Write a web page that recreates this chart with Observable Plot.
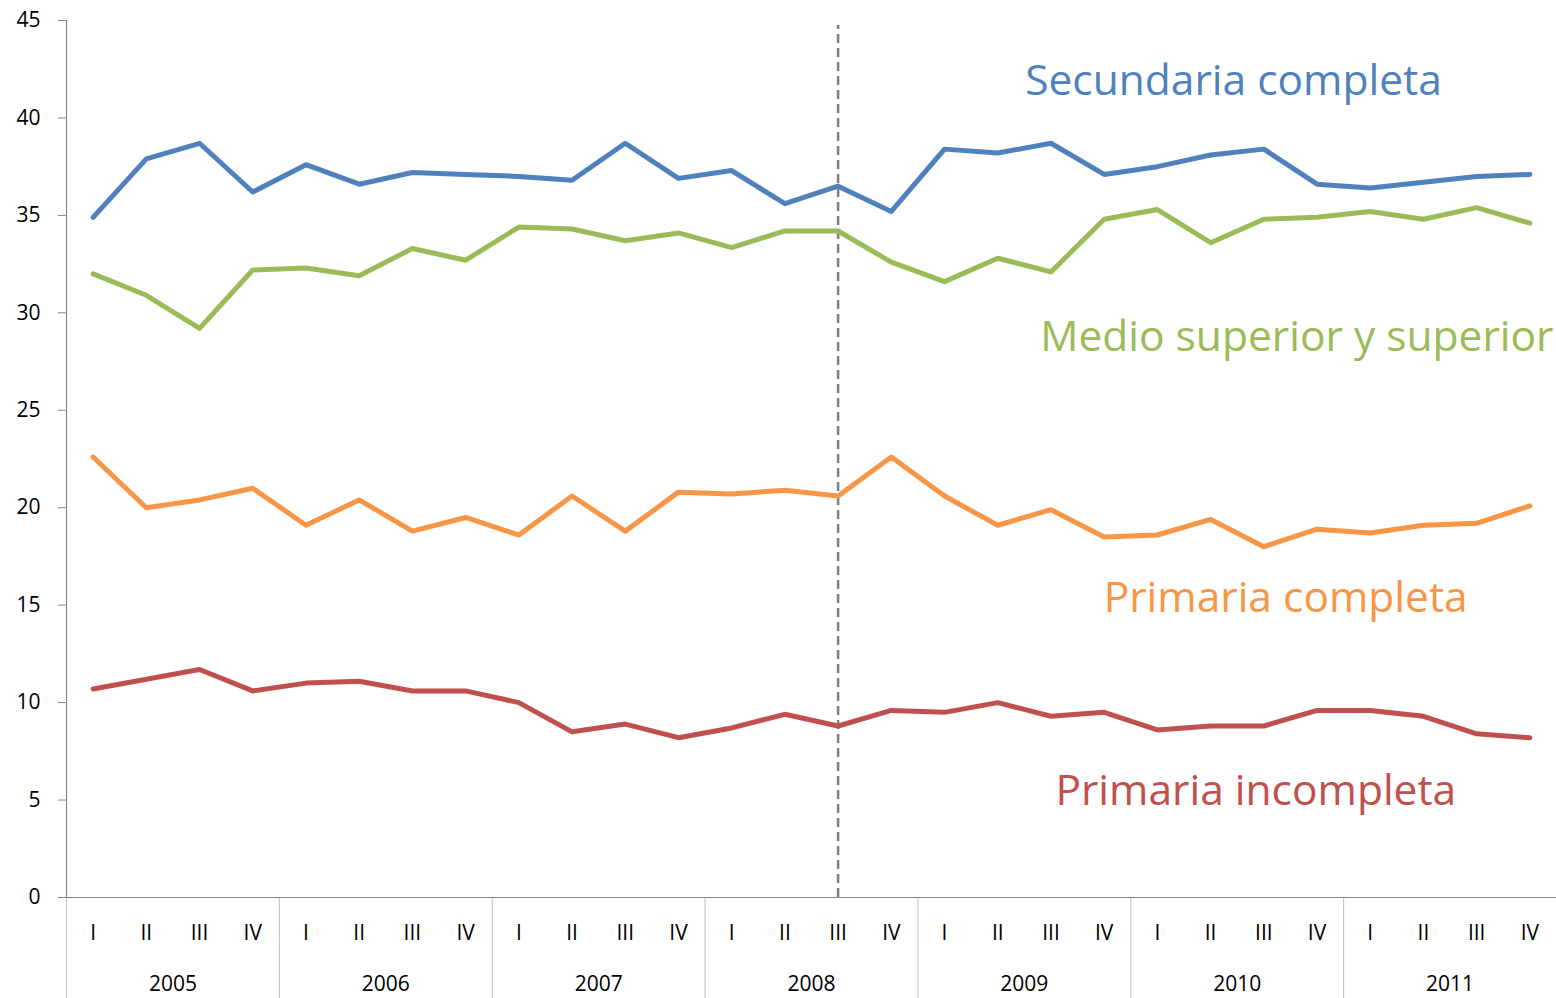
<!DOCTYPE html>
<html>
<head>
<meta charset="utf-8">
<script src="https://cdn.jsdelivr.net/npm/d3@7"></script>
<script src="https://cdn.jsdelivr.net/npm/@observablehq/plot@0.6"></script>
<style>
  html, body { margin: 0; padding: 0; background: #fff; }
  #chart svg { display: block; }
</style>
</head>
<body>
<div id="chart"></div>
<script>
const years = [2005, 2006, 2007, 2008, 2009, 2010, 2011];
const quarters = ["I", "II", "III", "IV"];
const yTicks = [0, 5, 10, 15, 20, 25, 30, 35, 40, 45];

const seriesNames = ["Secundaria completa", "Medio superior y superior", "Primaria completa", "Primaria incompleta"];
const seriesColors = ["#4F81BD", "#9BBB59", "#F79646", "#C0504D"];

const secundariaCompleta = [34.9, 37.9, 38.7, 36.2, 37.6, 36.6, 37.2, 37.1, 37.0, 36.8, 38.7, 36.9, 37.3, 35.6, 36.5, 35.2, 38.4, 38.2, 38.7, 37.1, 37.5, 38.1, 38.4, 36.6, 36.4, 36.7, 37.0, 37.1];
const medioSuperior = [32.0, 30.9, 29.2, 32.2, 32.3, 31.9, 33.3, 32.7, 34.4, 34.3, 33.7, 34.1, 33.35, 34.2, 34.2, 32.6, 31.6, 32.8, 32.1, 34.8, 35.3, 33.6, 34.8, 34.9, 35.2, 34.8, 35.4, 34.6];
const primariaCompleta = [22.6, 20.0, 20.4, 21.0, 19.1, 20.4, 18.8, 19.5, 18.6, 20.6, 18.8, 20.8, 20.7, 20.9, 20.6, 22.6, 20.6, 19.1, 19.9, 18.5, 18.6, 19.4, 18.0, 18.9, 18.7, 19.1, 19.2, 20.1];
const primariaIncompleta = [10.7, 11.2, 11.7, 10.6, 11.0, 11.1, 10.6, 10.6, 10.0, 8.5, 8.9, 8.2, 8.7, 9.4, 8.8, 9.6, 9.5, 10.0, 9.3, 9.5, 8.6, 8.8, 8.8, 9.6, 9.6, 9.3, 8.4, 8.2];

const seriesValues = [secundariaCompleta, medioSuperior, primariaCompleta, primariaIncompleta];

// marker: 2008 III
const markerYear = 2008;
const markerQuarter = "III";

// label anchors (quarter index, value)
const labelIndex = [21.93, 23.12, 22.91, 22.35];
const labelValue = [41.9, 28.73, 15.34, 5.44];

const nQ = years.length * quarters.length;
const rows = [];
seriesValues.forEach((vals, s) => {
  vals.forEach((v, i) => rows.push({series: seriesNames[s], x: i + 0.5, value: v}));
});
const labels = seriesNames.map((name, s) => ({series: name, x: labelIndex[s], value: labelValue[s]}));

const quarterTicks = d3.range(nQ).map(i => i + 0.5);
const yearTicks = years.map((y, k) => k * 4 + 2);
const yearBounds = d3.range(years.length + 1).map(k => k * 4);
const markerX = years.indexOf(markerYear) * 4 + quarters.indexOf(markerQuarter) + 0.5;

const chart = Plot.plot({
  width: 1556,
  height: 998,
  marginLeft: 66,
  marginRight: 0,
  marginTop: 20,
  marginBottom: 101,
  style: {fontFamily: "'Open Sans', sans-serif", fontSize: "21px", color: "#000", background: "#fff"},
  x: {domain: [0, nQ], axis: null},
  y: {domain: [0, 45], axis: null},
  color: {domain: seriesNames, range: seriesColors},
  marks: [
    Plot.axisY(yTicks, {anchor: "left", tickSize: 8, tickPadding: 18, stroke: "#868686", fill: "#000", label: null, fontSize: 21}),
    Plot.ruleX([0], {stroke: "#868686", strokeWidth: 1.2}),
    Plot.axisX(yearBounds, {anchor: "bottom", tickSize: 101, tickFormat: () => "", stroke: "#bfbfbf", label: null}),
    Plot.axisX(quarterTicks, {anchor: "bottom", tickSize: 0, tickPadding: 28, tickFormat: d => quarters[Math.floor(d) % 4], fill: "#000", label: null, fontSize: 21}),
    Plot.axisX(yearTicks, {anchor: "bottom", tickSize: 0, tickPadding: 79, tickFormat: d => String(years[(d - 2) / 4]), fill: "#000", label: null, fontSize: 21}),
    Plot.ruleY([0], {stroke: "#868686", strokeWidth: 1.2}),
    Plot.ruleX([markerX], {y1: 0, y2: 44.74, stroke: "#7f7f7f", strokeWidth: 2.5, strokeDasharray: "9,5"}),
    Plot.line(rows, {x: "x", y: "value", z: "series", stroke: "series", strokeWidth: 5, strokeLinejoin: "round", strokeLinecap: "round"}),
    Plot.text(labels, {x: "x", y: "value", text: "series", fill: "series", fontSize: 42.5, textAnchor: "middle"})
  ]
});
document.getElementById("chart").append(chart);
</script>
</body>
</html>
